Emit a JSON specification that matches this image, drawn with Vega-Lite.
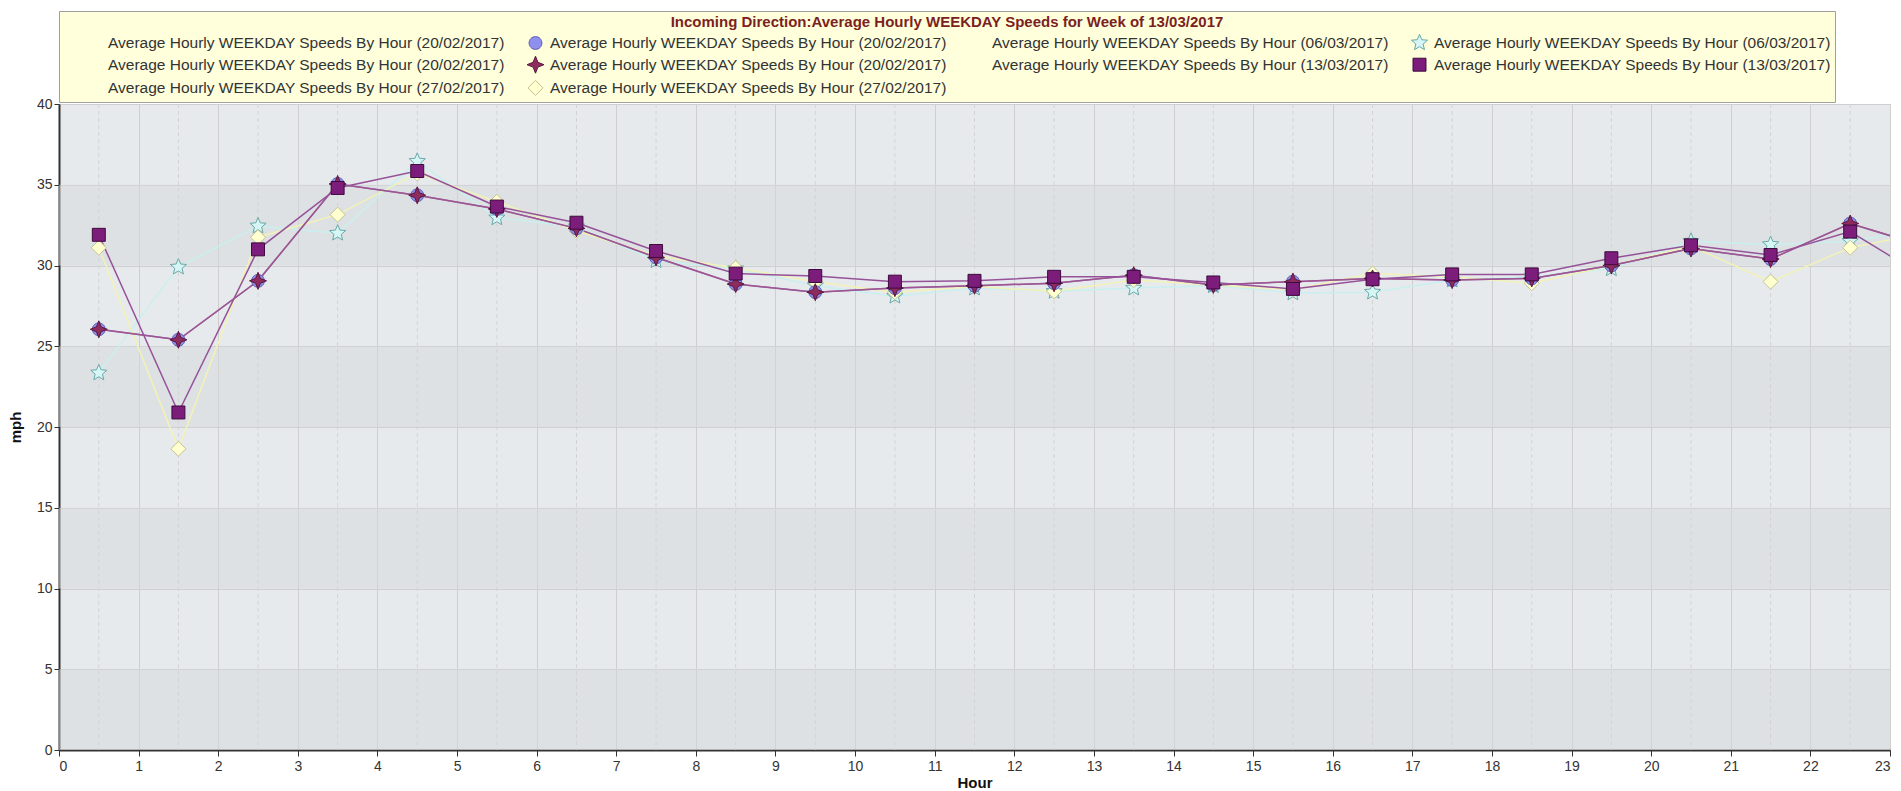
{
  "$schema": "https://vega.github.io/schema/vega-lite/v6.json",
  "width": 1831,
  "height": 646,
  "padding": {"left": 8, "top": 10, "right": 5, "bottom": 0},
  "background": "white",
  "config": {
    "font": "Liberation Sans",
    "view": {"fill": "#e7eaed", "stroke": "#a8a8a8", "strokeWidth": 1},
    "legend": {
      "orient": "top",
      "columns": 4,
      "padding": 4,
      "offset": 2,
      "fillColor": "#ffffdc",
      "strokeColor": "#a0a0a0",
      "titleFont": "Liberation Sans",
      "titleFontSize": 15,
      "titleFontWeight": "bold",
      "titleColor": "#7b1f1f",
      "titleAnchor": "middle",
      "titleLimit": 1500,
      "titlePadding": 4,
      "labelFont": "Liberation Sans",
      "labelFontSize": 15.5,
      "labelColor": "#333333",
      "labelLimit": 700,
      "symbolSize": 256,
      "symbolStrokeWidth": 1,
      "rowPadding": 2.2,
      "columnPadding": 0,
      "symbolOffset": 22,
      "labelOffset": 6
    }
  },
  "datasets": {
    "bands": [
      {"lo": 30, "hi": 35},
      {"lo": 20, "hi": 25},
      {"lo": 10, "hi": 15},
      {"lo": 0, "hi": 5}
    ],
    "speeds": [
      {"h": 0.5, "v": 23.35, "m": "3 06/03/2017", "l": "2 06/03/2017"},
      {"h": 1.5, "v": 29.9, "m": "3 06/03/2017", "l": "2 06/03/2017"},
      {"h": 2.5, "v": 32.45, "m": "3 06/03/2017", "l": "2 06/03/2017"},
      {"h": 3.5, "v": 32.0, "m": "3 06/03/2017", "l": "2 06/03/2017"},
      {"h": 4.5, "v": 36.45, "m": "3 06/03/2017", "l": "2 06/03/2017"},
      {"h": 5.5, "v": 32.95, "m": "3 06/03/2017", "l": "2 06/03/2017"},
      {"h": 6.5, "v": 32.4, "m": "3 06/03/2017", "l": "2 06/03/2017"},
      {"h": 7.5, "v": 30.3, "m": "3 06/03/2017", "l": "2 06/03/2017"},
      {"h": 8.5, "v": 29.8, "m": "3 06/03/2017", "l": "2 06/03/2017"},
      {"h": 9.5, "v": 28.75, "m": "3 06/03/2017", "l": "2 06/03/2017"},
      {"h": 10.5, "v": 28.1, "m": "3 06/03/2017", "l": "2 06/03/2017"},
      {"h": 11.5, "v": 28.6, "m": "3 06/03/2017", "l": "2 06/03/2017"},
      {"h": 12.5, "v": 28.4, "m": "3 06/03/2017", "l": "2 06/03/2017"},
      {"h": 13.5, "v": 28.6, "m": "3 06/03/2017", "l": "2 06/03/2017"},
      {"h": 14.5, "v": 28.75, "m": "3 06/03/2017", "l": "2 06/03/2017"},
      {"h": 15.5, "v": 28.3, "m": "3 06/03/2017", "l": "2 06/03/2017"},
      {"h": 16.5, "v": 28.35, "m": "3 06/03/2017", "l": "2 06/03/2017"},
      {"h": 17.5, "v": 29.1, "m": "3 06/03/2017", "l": "2 06/03/2017"},
      {"h": 18.5, "v": 29.3, "m": "3 06/03/2017", "l": "2 06/03/2017"},
      {"h": 19.5, "v": 29.8, "m": "3 06/03/2017", "l": "2 06/03/2017"},
      {"h": 20.5, "v": 31.5, "m": "3 06/03/2017", "l": "2 06/03/2017"},
      {"h": 21.5, "v": 31.3, "m": "3 06/03/2017", "l": "2 06/03/2017"},
      {"h": 22.5, "v": 31.5, "m": "3 06/03/2017", "l": "2 06/03/2017"},
      {"h": 23.5, "v": 32.3, "m": "3 06/03/2017", "l": "2 06/03/2017"},

      {"h": 0.5, "v": 31.1, "m": "9 27/02/2017", "l": "8 27/02/2017"},
      {"h": 1.5, "v": 18.65, "m": "9 27/02/2017", "l": "8 27/02/2017"},
      {"h": 2.5, "v": 31.75, "m": "9 27/02/2017", "l": "8 27/02/2017"},
      {"h": 3.5, "v": 33.15, "m": "9 27/02/2017", "l": "8 27/02/2017"},
      {"h": 4.5, "v": 35.7, "m": "9 27/02/2017", "l": "8 27/02/2017"},
      {"h": 5.5, "v": 33.95, "m": "9 27/02/2017", "l": "8 27/02/2017"},
      {"h": 6.5, "v": 32.15, "m": "9 27/02/2017", "l": "8 27/02/2017"},
      {"h": 7.5, "v": 30.6, "m": "9 27/02/2017", "l": "8 27/02/2017"},
      {"h": 8.5, "v": 29.85, "m": "9 27/02/2017", "l": "8 27/02/2017"},
      {"h": 9.5, "v": 29.0, "m": "9 27/02/2017", "l": "8 27/02/2017"},
      {"h": 10.5, "v": 28.35, "m": "9 27/02/2017", "l": "8 27/02/2017"},
      {"h": 11.5, "v": 28.7, "m": "9 27/02/2017", "l": "8 27/02/2017"},
      {"h": 12.5, "v": 28.4, "m": "9 27/02/2017", "l": "8 27/02/2017"},
      {"h": 13.5, "v": 29.1, "m": "9 27/02/2017", "l": "8 27/02/2017"},
      {"h": 14.5, "v": 28.8, "m": "9 27/02/2017", "l": "8 27/02/2017"},
      {"h": 15.5, "v": 28.5, "m": "9 27/02/2017", "l": "8 27/02/2017"},
      {"h": 16.5, "v": 29.5, "m": "9 27/02/2017", "l": "8 27/02/2017"},
      {"h": 17.5, "v": 29.3, "m": "9 27/02/2017", "l": "8 27/02/2017"},
      {"h": 18.5, "v": 28.9, "m": "9 27/02/2017", "l": "8 27/02/2017"},
      {"h": 19.5, "v": 30.0, "m": "9 27/02/2017", "l": "8 27/02/2017"},
      {"h": 20.5, "v": 31.2, "m": "9 27/02/2017", "l": "8 27/02/2017"},
      {"h": 21.5, "v": 29.0, "m": "9 27/02/2017", "l": "8 27/02/2017"},
      {"h": 22.5, "v": 31.1, "m": "9 27/02/2017", "l": "8 27/02/2017"},
      {"h": 23.5, "v": 32.1, "m": "9 27/02/2017", "l": "8 27/02/2017"},

      {"h": 0.5, "v": 26.05, "m": "1 20/02/2017", "l": "0 20/02/2017"},
      {"h": 1.5, "v": 25.4, "m": "1 20/02/2017", "l": "0 20/02/2017"},
      {"h": 2.5, "v": 29.05, "m": "1 20/02/2017", "l": "0 20/02/2017"},
      {"h": 3.5, "v": 35.05, "m": "1 20/02/2017", "l": "0 20/02/2017"},
      {"h": 4.5, "v": 34.35, "m": "1 20/02/2017", "l": "0 20/02/2017"},
      {"h": 5.5, "v": 33.5, "m": "1 20/02/2017", "l": "0 20/02/2017"},
      {"h": 6.5, "v": 32.3, "m": "1 20/02/2017", "l": "0 20/02/2017"},
      {"h": 7.5, "v": 30.5, "m": "1 20/02/2017", "l": "0 20/02/2017"},
      {"h": 8.5, "v": 28.85, "m": "1 20/02/2017", "l": "0 20/02/2017"},
      {"h": 9.5, "v": 28.35, "m": "1 20/02/2017", "l": "0 20/02/2017"},
      {"h": 10.5, "v": 28.6, "m": "1 20/02/2017", "l": "0 20/02/2017"},
      {"h": 11.5, "v": 28.75, "m": "1 20/02/2017", "l": "0 20/02/2017"},
      {"h": 12.5, "v": 28.9, "m": "1 20/02/2017", "l": "0 20/02/2017"},
      {"h": 13.5, "v": 29.4, "m": "1 20/02/2017", "l": "0 20/02/2017"},
      {"h": 14.5, "v": 28.8, "m": "1 20/02/2017", "l": "0 20/02/2017"},
      {"h": 15.5, "v": 29.0, "m": "1 20/02/2017", "l": "0 20/02/2017"},
      {"h": 16.5, "v": 29.2, "m": "1 20/02/2017", "l": "0 20/02/2017"},
      {"h": 17.5, "v": 29.1, "m": "1 20/02/2017", "l": "0 20/02/2017"},
      {"h": 18.5, "v": 29.2, "m": "1 20/02/2017", "l": "0 20/02/2017"},
      {"h": 19.5, "v": 30.0, "m": "1 20/02/2017", "l": "0 20/02/2017"},
      {"h": 20.5, "v": 31.05, "m": "1 20/02/2017", "l": "0 20/02/2017"},
      {"h": 21.5, "v": 30.4, "m": "1 20/02/2017", "l": "0 20/02/2017"},
      {"h": 22.5, "v": 32.6, "m": "1 20/02/2017", "l": "0 20/02/2017"},
      {"h": 23.5, "v": 31.1, "m": "1 20/02/2017", "l": "0 20/02/2017"},

      {"h": 0.5, "v": 26.05, "m": "5 20/02/2017", "l": "4 20/02/2017"},
      {"h": 1.5, "v": 25.4, "m": "5 20/02/2017", "l": "4 20/02/2017"},
      {"h": 2.5, "v": 29.05, "m": "5 20/02/2017", "l": "4 20/02/2017"},
      {"h": 3.5, "v": 35.05, "m": "5 20/02/2017", "l": "4 20/02/2017"},
      {"h": 4.5, "v": 34.35, "m": "5 20/02/2017", "l": "4 20/02/2017"},
      {"h": 5.5, "v": 33.5, "m": "5 20/02/2017", "l": "4 20/02/2017"},
      {"h": 6.5, "v": 32.3, "m": "5 20/02/2017", "l": "4 20/02/2017"},
      {"h": 7.5, "v": 30.5, "m": "5 20/02/2017", "l": "4 20/02/2017"},
      {"h": 8.5, "v": 28.85, "m": "5 20/02/2017", "l": "4 20/02/2017"},
      {"h": 9.5, "v": 28.35, "m": "5 20/02/2017", "l": "4 20/02/2017"},
      {"h": 10.5, "v": 28.6, "m": "5 20/02/2017", "l": "4 20/02/2017"},
      {"h": 11.5, "v": 28.75, "m": "5 20/02/2017", "l": "4 20/02/2017"},
      {"h": 12.5, "v": 28.9, "m": "5 20/02/2017", "l": "4 20/02/2017"},
      {"h": 13.5, "v": 29.4, "m": "5 20/02/2017", "l": "4 20/02/2017"},
      {"h": 14.5, "v": 28.8, "m": "5 20/02/2017", "l": "4 20/02/2017"},
      {"h": 15.5, "v": 29.0, "m": "5 20/02/2017", "l": "4 20/02/2017"},
      {"h": 16.5, "v": 29.2, "m": "5 20/02/2017", "l": "4 20/02/2017"},
      {"h": 17.5, "v": 29.1, "m": "5 20/02/2017", "l": "4 20/02/2017"},
      {"h": 18.5, "v": 29.2, "m": "5 20/02/2017", "l": "4 20/02/2017"},
      {"h": 19.5, "v": 30.0, "m": "5 20/02/2017", "l": "4 20/02/2017"},
      {"h": 20.5, "v": 31.05, "m": "5 20/02/2017", "l": "4 20/02/2017"},
      {"h": 21.5, "v": 30.4, "m": "5 20/02/2017", "l": "4 20/02/2017"},
      {"h": 22.5, "v": 32.6, "m": "5 20/02/2017", "l": "4 20/02/2017"},
      {"h": 23.5, "v": 31.1, "m": "5 20/02/2017", "l": "4 20/02/2017"},

      {"h": 0.5, "v": 31.9, "m": "7 13/03/2017", "l": "6 13/03/2017"},
      {"h": 1.5, "v": 20.9, "m": "7 13/03/2017", "l": "6 13/03/2017"},
      {"h": 2.5, "v": 31.0, "m": "7 13/03/2017", "l": "6 13/03/2017"},
      {"h": 3.5, "v": 34.8, "m": "7 13/03/2017", "l": "6 13/03/2017"},
      {"h": 4.5, "v": 35.85, "m": "7 13/03/2017", "l": "6 13/03/2017"},
      {"h": 5.5, "v": 33.65, "m": "7 13/03/2017", "l": "6 13/03/2017"},
      {"h": 6.5, "v": 32.65, "m": "7 13/03/2017", "l": "6 13/03/2017"},
      {"h": 7.5, "v": 30.9, "m": "7 13/03/2017", "l": "6 13/03/2017"},
      {"h": 8.5, "v": 29.5, "m": "7 13/03/2017", "l": "6 13/03/2017"},
      {"h": 9.5, "v": 29.35, "m": "7 13/03/2017", "l": "6 13/03/2017"},
      {"h": 10.5, "v": 29.0, "m": "7 13/03/2017", "l": "6 13/03/2017"},
      {"h": 11.5, "v": 29.05, "m": "7 13/03/2017", "l": "6 13/03/2017"},
      {"h": 12.5, "v": 29.3, "m": "7 13/03/2017", "l": "6 13/03/2017"},
      {"h": 13.5, "v": 29.3, "m": "7 13/03/2017", "l": "6 13/03/2017"},
      {"h": 14.5, "v": 28.95, "m": "7 13/03/2017", "l": "6 13/03/2017"},
      {"h": 15.5, "v": 28.55, "m": "7 13/03/2017", "l": "6 13/03/2017"},
      {"h": 16.5, "v": 29.15, "m": "7 13/03/2017", "l": "6 13/03/2017"},
      {"h": 17.5, "v": 29.45, "m": "7 13/03/2017", "l": "6 13/03/2017"},
      {"h": 18.5, "v": 29.45, "m": "7 13/03/2017", "l": "6 13/03/2017"},
      {"h": 19.5, "v": 30.45, "m": "7 13/03/2017", "l": "6 13/03/2017"},
      {"h": 20.5, "v": 31.25, "m": "7 13/03/2017", "l": "6 13/03/2017"},
      {"h": 21.5, "v": 30.65, "m": "7 13/03/2017", "l": "6 13/03/2017"},
      {"h": 22.5, "v": 32.1, "m": "7 13/03/2017", "l": "6 13/03/2017"},
      {"h": 23.5, "v": 29.1, "m": "7 13/03/2017", "l": "6 13/03/2017"}
    ]
  },
  "layer": [
    {
      "data": {"name": "bands"},
      "mark": {"type": "rect", "fill": "#d6d7d9", "opacity": 0.5},
      "encoding": {
        "x": {"value": 0},
        "x2": {"value": "width"},
        "y": {
          "field": "lo", "type": "quantitative", "title": "mph",
          "scale": {"domain": [0, 40], "nice": false, "zero": true},
          "axis": {
            "values": [0, 5, 10, 15, 20, 25, 30, 35, 40],
            "grid": true, "gridColor": "#cfcfcf", "gridWidth": 1,
            "domainColor": "#333333", "domainWidth": 2,
            "tickColor": "#333333", "tickSize": 5,
            "labelFontSize": 14, "labelColor": "#333333", "labelPadding": 2,
            "titleFontSize": 15, "titleFontWeight": "bold", "titleColor": "#111111", "titlePadding": 13
          }
        },
        "y2": {"field": "hi"}
      }
    },
    {
      "data": {"name": "speeds"},
      "transform": [{"filter": {"field": "m", "equal": "7 13/03/2017"}}],
      "mark": {"type": "rule", "clip": true, "color": "#d3d3d3", "strokeWidth": 1, "strokeDash": [4, 3]},
      "encoding": {
        "x": {"field": "h", "type": "quantitative", "title": "Hour"}
      }
    },
    {
      "data": {"name": "speeds"},
      "mark": {"type": "line", "clip": true},
      "encoding": {
        "x": {
          "field": "h", "type": "quantitative", "title": "Hour",
          "scale": {"domain": [0, 23], "nice": false, "zero": false},
          "axis": {
            "values": [0, 1, 2, 3, 4, 5, 6, 7, 8, 9, 10, 11, 12, 13, 14, 15, 16, 17, 18, 19, 20, 21, 22, 23],
            "format": "d",
            "labelOverlap": false,
            "labelFontSize": 14, "labelColor": "#333333", "labelPadding": 3,
            "tickColor": "#333333", "tickSize": 6,
            "domainColor": "#333333", "domainWidth": 2,
            "grid": true, "gridColor": "#cfcfcf",
            "titleFontSize": 15, "titleFontWeight": "bold", "titleColor": "#111111", "titlePadding": 2
          }
        },
        "y": {"field": "v", "type": "quantitative", "title": "mph"},
        "color": {
          "field": "l", "type": "nominal", "legend": null,
          "scale": {
            "domain": ["2 06/03/2017", "8 27/02/2017", "0 20/02/2017", "4 20/02/2017", "6 13/03/2017"],
            "range": ["#c9efef", "#f2f2b6", "#9a74b4", "#9e5590", "#955298"]
          }
        },
        "strokeWidth": {
          "field": "l", "type": "nominal", "legend": null,
          "scale": {
            "domain": ["2 06/03/2017", "8 27/02/2017", "0 20/02/2017", "4 20/02/2017", "6 13/03/2017"],
            "range": [1.5, 1.5, 1.8, 1.8, 1.8]
          }
        }
      }
    },
    {
      "data": {"name": "speeds"},
      "mark": {"type": "point", "filled": true, "size": 256, "strokeWidth": 1, "opacity": 1, "clip": true},
      "encoding": {
        "x": {"field": "h", "type": "quantitative", "title": "Hour"},
        "y": {"field": "v", "type": "quantitative", "title": "mph"},
        "shape": {
          "field": "m", "type": "nominal",
          "title": "Incoming Direction:Average Hourly WEEKDAY Speeds for Week of 13/03/2017",
          "legend": {"labelExpr": "'Average Hourly WEEKDAY Speeds By Hour (' + slice(datum.label, 2) + ')'"},
          "scale": {
            "domain": ["0 20/02/2017", "1 20/02/2017", "2 06/03/2017", "3 06/03/2017", "4 20/02/2017", "5 20/02/2017", "6 13/03/2017", "7 13/03/2017", "8 27/02/2017", "9 27/02/2017"],
            "range": [
              "M-1,0H1",
              "M-0.8,0A0.8,0.8,0,1,1,0.8,0A0.8,0.8,0,1,1,-0.8,0Z",
              "M-1,0H1",
              "M0,-1.06L0.282,-0.388L1.008,-0.328L0.456,0.148L0.623,0.858L0,0.48L-0.623,0.858L-0.456,0.148L-1.008,-0.328L-0.282,-0.388Z",
              "M-1,0H1",
              "M0,-1.06L0.3,-0.3L1.06,0L0.3,0.3L0,1.06L-0.3,0.3L-1.06,0L-0.3,-0.3Z",
              "M-1,0H1",
              "M-0.81,-0.81H0.81V0.81H-0.81Z",
              "M-1,0H1",
              "M0,-0.94L0.94,0L0,0.94L-0.94,0Z"
            ]
          }
        },
        "fill": {
          "field": "m", "type": "nominal",
          "title": "Incoming Direction:Average Hourly WEEKDAY Speeds for Week of 13/03/2017",
          "legend": {"labelExpr": "'Average Hourly WEEKDAY Speeds By Hour (' + slice(datum.label, 2) + ')'"},
          "scale": {
            "domain": ["0 20/02/2017", "1 20/02/2017", "2 06/03/2017", "3 06/03/2017", "4 20/02/2017", "5 20/02/2017", "6 13/03/2017", "7 13/03/2017", "8 27/02/2017", "9 27/02/2017"],
            "range": ["transparent", "#8f8fee", "transparent", "#d6f5f5", "transparent", "#8e2c5e", "transparent", "#7c1d7c", "transparent", "#ffffcf"]
          }
        },
        "stroke": {
          "field": "m", "type": "nominal",
          "title": "Incoming Direction:Average Hourly WEEKDAY Speeds for Week of 13/03/2017",
          "legend": {"labelExpr": "'Average Hourly WEEKDAY Speeds By Hour (' + slice(datum.label, 2) + ')'"},
          "scale": {
            "domain": ["0 20/02/2017", "1 20/02/2017", "2 06/03/2017", "3 06/03/2017", "4 20/02/2017", "5 20/02/2017", "6 13/03/2017", "7 13/03/2017", "8 27/02/2017", "9 27/02/2017"],
            "range": ["transparent", "#5a5ab0", "transparent", "#6aa8a8", "transparent", "#5a1640", "transparent", "#3c0a3c", "transparent", "#c2c294"]
          }
        }
      }
    }
  ]
}
